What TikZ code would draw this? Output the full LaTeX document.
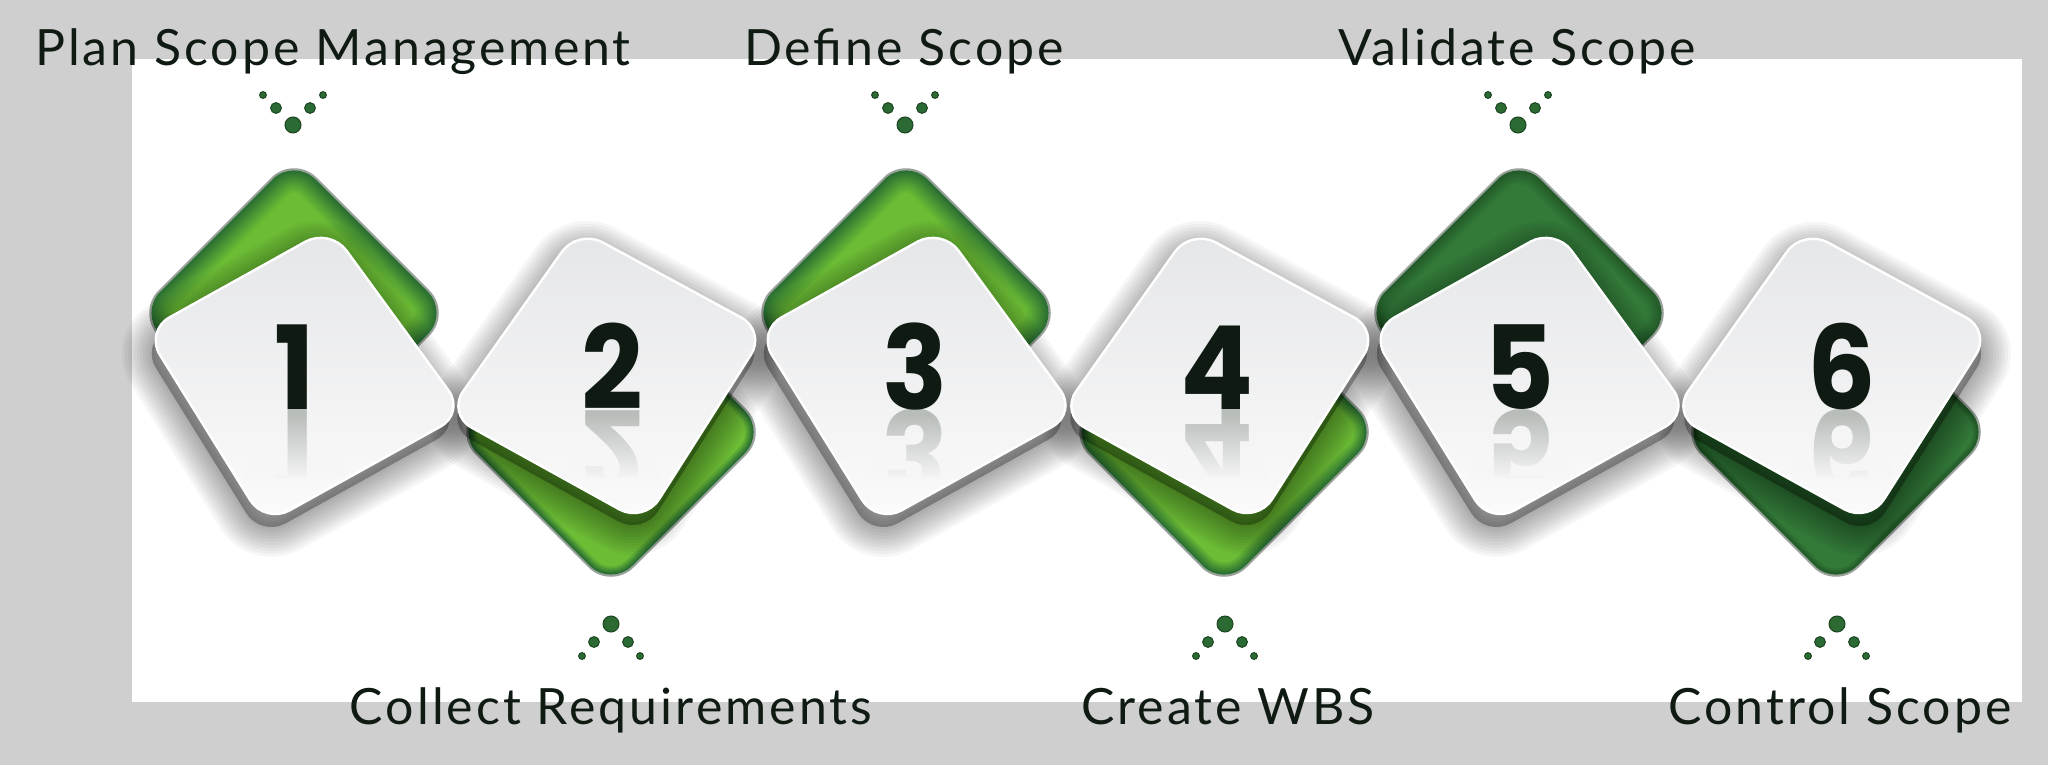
\documentclass[tikz,border=0pt]{standalone}
\usepackage{fontspec}
\setmainfont{Lato}
\newfontfamily\labelfont{Lato}[LetterSpace=6]
\newfontfamily\numfont{Poppins}
\usetikzlibrary{fadings}

\definecolor{bggray}{HTML}{CFCFCF}
\definecolor{ink}{HTML}{0F1A12}
\definecolor{tiletop}{HTML}{E5E6E8}
\definecolor{tilebot}{HTML}{FBFBFB}
\definecolor{reflc}{HTML}{B8BDBA}
\definecolor{dotc}{HTML}{2B6A33}
\definecolor{dotrim}{HTML}{1B4421}
\definecolor{gedge}{HTML}{98A29A}
% bright green: rim and centre
\definecolor{gA}{HTML}{2B7032}
\definecolor{gE}{HTML}{6CBD35}
% dark green: rim and centre
\definecolor{kA}{HTML}{235B29}
\definecolor{kC}{HTML}{337A39}

\tikzset{
  tilebody/.style={top color=tiletop, bottom color=tilebot, draw=white,
      line width=1.2pt, rounded corners=14pt},
  shadowring/.style={fill=black, fill opacity=0.03, draw=black, draw opacity=0.035,
      rounded corners=14pt, line join=round},
  label/.style={font=\labelfont\fontsize{25}{30}\selectfont, text=ink, anchor=base, inner sep=0pt},
  digit/.style={font=\numfont\bfseries\fontsize{58}{58}\selectfont, text=ink,
      anchor=base, inner sep=0pt, xscale=0.93},
  refl/.style={digit, text=reflc, yscale=-1},
  dotfill/.style={fill=dotc, draw=dotrim, line width=0.5pt},
}

% tile outlines, relative to the tile centre
\newcommand{\oddtile}{(28,-146) -- (163,39) -- (-37,150) -- (-157,-43) -- cycle}
\newcommand{\eventile}{(-30,-145) -- (158,-43) -- (36,149) -- (-161,40) -- cycle}
\newcommand{\gdiamond}[1]{(0,-#1) -- (#1,0) -- (0,#1) -- (-#1,0) -- cycle}

% green diamond shaded from rim to centre
% #1 centre, #2 rim colour, #3 centre colour, #4 rim depth (even, px)
\newcommand{\greenplate}[4]{%
  \begin{scope}[shift={#1}]
    \fill[gedge, rounded corners=16pt] \gdiamond{158};
    \foreach \t in {0,2,...,#4} {
      \pgfmathsetmacro\dd{155-1.414*\t}
      \pgfmathsetmacro\rr{max(30-\t,4)*0.5}
      \pgfmathsetmacro\pp{100*\t/#4}
      \fill[#3!\pp!#2, rounded corners=\rr pt] \gdiamond{\dd};
    }
  \end{scope}}

% soft drop shadow: #1 shifted centre, #2 outline
\newcommand{\softshadow}[2]{%
  \begin{scope}[shift={#1}]
    \foreach \w in {3,6,...,30} {
      \path[shadowring, line width=\w pt] #2;
    }
  \end{scope}}

% white tile with its digit and the digit's fading mirror image
% #1 x, #2 y, #3 outline, #4 digit, #5 digit offset
\newcommand{\drawtile}[5]{%
  \begin{scope}[shift={(#1,#2)}]
    \path[tilebody] #3;
    \begin{scope}
      \clip[rounded corners=14pt] #3;
      \clip (#5-50,35) rectangle (#5+50,104);
      \node[refl] (r#4) at (#5,35) {#4};
      \fill[tilebot!75!tiletop, path fading=north] (#5-50,40) rectangle (#5+50,105);
    \end{scope}
    \node[digit] (n#4) at (#5,35) {#4};
  \end{scope}}

% top and bottom dot fans
\newcommand{\dotsdown}[1]{%
  \begin{scope}[shift={(#1,0)}]
    \path[dotfill] (-30,95) circle (1.7pt) (30,95) circle (1.7pt)
      (-17,108) circle (2.7pt) (17,108) circle (2.7pt) (0,125) circle (4pt);
  \end{scope}}
\newcommand{\dotsup}[1]{%
  \begin{scope}[shift={(#1,0)}]
    \path[dotfill] (-29,656) circle (1.7pt) (29,656) circle (1.7pt)
      (-17,642) circle (2.7pt) (17,642) circle (2.7pt) (0,624) circle (4pt);
  \end{scope}}

\begin{document}
\begin{tikzpicture}[x=0.5pt,y=-0.5pt]
\useasboundingbox (0,0) rectangle (2048,765);
\fill[bggray] (0,0) rectangle (2048,765);
\fill[white] (132,59) rectangle (2022,702);

% green plates behind the tiles
\greenplate{(294,313)}{gA}{gE}{22}
\greenplate{(906,313)}{gA}{gE}{22}
\greenplate{(1519,313)}{kA}{kC}{14}
\greenplate{(611,432)}{gA}{gE}{8}
\greenplate{(1224,432)}{gA}{gE}{12}
\greenplate{(1836,432)}{kA}{kC}{6}

% drop shadows of the tiles
\softshadow{(298,387)}{\oddtile}
\softshadow{(910,387)}{\oddtile}
\softshadow{(1523,387)}{\oddtile}
\softshadow{(607,386)}{\eventile}
\softshadow{(1220,386)}{\eventile}
\softshadow{(1834,387)}{\eventile}

% the tiles with their numbers
\drawtile{302}{374}{\oddtile}{1}{-7}
\drawtile{608}{374}{\eventile}{2}{4}
\drawtile{914}{374}{\oddtile}{3}{1}
\drawtile{1221}{374}{\eventile}{4}{-4}
\drawtile{1527}{374}{\oddtile}{5}{-7}
\drawtile{1833}{374}{\eventile}{6}{9}

% dot fans
\dotsdown{293}
\dotsdown{905}
\dotsdown{1518}
\dotsup{611}
\dotsup{1225}
\dotsup{1837}

% step labels
\node[label] (l1) at (333,66) {Plan Scope Management};
\node[label] (l3) at (904,66) {Define Scope};
\node[label] (l5) at (1517,66) {Validate Scope};
\node[label] (l2) at (611,724) {Collect Requirements};
\node[label] (l4) at (1228,724) {Create WBS};
\node[label] (l6) at (1840,724) {Control Scope};
\end{tikzpicture}
\end{document}
